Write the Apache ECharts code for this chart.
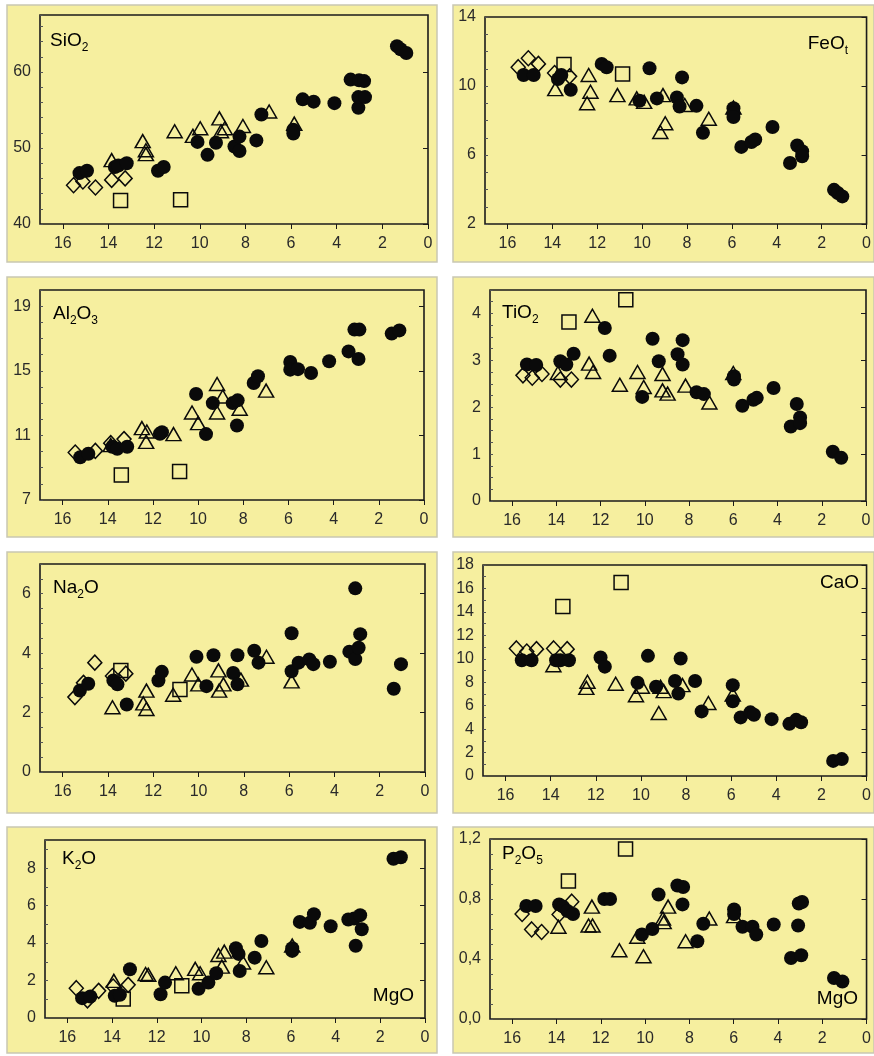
<!DOCTYPE html>
<html>
<head>
<meta charset="utf-8">
<script src="https://cdn.jsdelivr.net/npm/echarts@6/dist/echarts.min.js"></script>
<style>
  html, body { margin: 0; padding: 0; background: #ffffff; }
  #chart { width: 874px; height: 1056px; }
</style>
</head>
<body>
<div id="chart"></div>
<script>
// Harker diagrams: oxide (wt.%) against MgO (wt.%), four sample groups.
// Each pair is [MgO, oxide].

const mgoTicks = [0, 2, 4, 6, 8, 10, 12, 14, 16];

// SiO2
const sio2Dots = [[15.27,46.7],[14.94,47.0],[13.72,47.5],[13.57,47.7],[13.2,48.0],[11.83,47.0],[11.58,47.5],[10.1,50.8],[9.66,49.1],[9.29,50.7],[8.48,50.2],[8.26,51.5],[8.26,49.6],[7.52,51.0],[7.3,54.4],[5.9,52.4],[5.9,51.9],[5.49,56.4],[5.01,56.1],[4.1,55.9],[3.39,59.0],[3.02,58.9],[2.8,58.8],[3.05,55.3],[3.05,56.7],[2.76,56.7],[1.36,63.4],[1.2,63.0],[0.95,62.5]];
const sio2Tri = [[13.86,48.4],[12.5,50.9],[12.36,49.7],[12.36,49.2],[11.1,52.2],[10.3,51.6],[9.98,52.6],[9.14,53.9],[9.07,52.2],[8.9,52.6],[8.11,52.9],[6.96,54.8],[5.86,53.2]];
const sio2Dia = [[15.53,45.1],[15.12,45.6],[14.57,44.8],[13.86,45.8],[13.27,46.0]];
const sio2Sq = [[13.47,43.1],[10.84,43.2]];

// FeOt
const feoDots = [[15.28,10.64],[14.83,10.64],[13.75,10.4],[13.6,10.64],[13.18,9.78],[11.8,11.28],[11.58,11.09],[9.67,11.03],[10.12,9.14],[9.34,9.28],[8.45,9.33],[8.33,8.81],[8.22,10.5],[7.58,8.85],[7.29,7.29],[5.93,8.71],[5.93,8.4],[5.93,8.2],[5.58,6.47],[5.13,6.75],[4.96,6.9],[4.19,7.62],[3.41,5.54],[3.09,6.55],[2.87,6.22],[2.87,5.93],[1.45,3.98],[1.28,3.8],[1.08,3.6]];
const feoTri = [[13.87,9.82],[12.38,10.64],[12.3,9.67],[12.45,9.0],[11.1,9.47],[10.24,9.28],[9.91,9.08],[9.07,9.47],[9.19,7.33],[8.97,7.84],[8.1,8.9],[7.03,8.1],[5.93,8.75]];
const feoDia = [[15.52,11.09],[15.07,11.61],[14.62,11.28],[13.9,10.75],[13.23,10.56]];
const feoSq = [[13.48,11.24],[10.87,10.7]];

// Al2O3
const al2o3Dots = [[15.22,9.65],[14.86,9.86],[13.8,10.3],[13.58,10.17],[13.14,10.3],[11.69,11.1],[11.6,11.2],[10.09,13.56],[9.65,11.08],[9.35,13.0],[8.47,13.0],[8.25,13.17],[8.28,11.61],[7.54,14.24],[7.35,14.66],[5.92,15.55],[5.92,15.07],[5.58,15.1],[5.0,14.86],[4.2,15.59],[3.34,16.2],[3.08,17.55],[2.9,15.73],[2.86,17.55],[1.43,17.3],[1.09,17.5]];
const al2o3Tri = [[13.87,10.4],[12.49,11.45],[12.3,10.6],[12.27,11.24],[11.09,11.08],[10.27,12.42],[10.0,11.76],[9.16,14.18],[9.16,12.42],[8.91,13.41],[8.16,12.65],[6.99,13.77]];
const al2o3Dia = [[15.44,9.94],[14.55,10.04],[13.87,10.52],[13.28,10.77]];
const al2o3Sq = [[13.4,8.55],[10.82,8.76]];

// TiO2
const tio2Dots = [[15.33,2.91],[14.91,2.9],[13.82,2.98],[13.55,2.91],[13.22,3.14],[11.81,3.69],[11.59,3.1],[10.12,2.22],[9.65,3.46],[9.37,2.98],[8.52,3.13],[8.29,2.91],[8.29,3.43],[7.66,2.32],[7.33,2.28],[5.97,2.66],[5.97,2.59],[5.59,2.03],[5.09,2.16],[4.94,2.2],[4.18,2.41],[3.4,1.59],[3.13,2.07],[2.98,1.78],[2.98,1.66],[1.5,1.05],[1.12,0.92]];
const tio2Tri = [[13.93,2.73],[12.52,2.93],[12.34,2.75],[12.37,3.95],[11.13,2.48],[10.33,2.75],[10.05,2.43],[9.2,2.71],[9.2,2.36],[8.97,2.29],[8.16,2.46],[7.08,2.1],[6.0,2.73]];
const tio2Dia = [[15.51,2.68],[15.09,2.63],[14.65,2.71],[13.82,2.59],[13.32,2.59]];
const tio2Sq = [[13.43,3.82],[10.86,4.29]];

// Na2O
const na2oDots = [[15.24,2.74],[14.87,2.97],[13.76,3.08],[13.58,2.95],[13.17,2.27],[11.77,3.08],[11.62,3.37],[10.09,3.88],[9.65,2.89],[9.34,3.93],[8.47,3.33],[8.28,3.93],[8.28,2.95],[7.54,4.08],[7.35,3.68],[5.89,4.67],[5.89,3.39],[5.58,3.68],[5.11,3.79],[4.93,3.63],[4.2,3.71],[3.34,4.05],[3.08,6.18],[3.08,3.8],[2.93,4.18],[2.86,4.64],[1.38,2.8],[1.06,3.63]];
const na2oTri = [[13.8,2.18],[12.44,2.31],[12.3,2.74],[12.3,2.12],[11.12,2.6],[10.29,3.28],[10.01,2.95],[9.12,3.42],[9.09,2.74],[8.9,2.95],[8.13,3.11],[7.0,3.88],[5.89,3.05]];
const na2oDia = [[15.46,2.52],[15.08,3.0],[14.58,3.68],[13.8,3.23],[13.21,3.31]];
const na2oSq = [[13.43,3.42],[10.82,2.78]];

// CaO
const caoDots = [[15.28,9.88],[14.85,9.88],[13.76,9.88],[13.57,9.88],[13.19,9.88],[11.79,10.11],[11.6,9.33],[10.15,7.95],[9.69,10.25],[9.33,7.61],[8.49,8.1],[8.34,7.03],[8.24,10.02],[7.6,8.1],[7.31,5.51],[5.93,7.75],[5.93,6.37],[5.58,5.0],[5.15,5.43],[4.99,5.23],[4.21,4.85],[3.42,4.45],[3.12,4.79],[2.9,4.59],[1.48,1.29],[1.1,1.44]];
const caoTri = [[13.88,9.45],[12.37,8.04],[12.42,7.52],[11.12,7.87],[10.22,6.89],[9.96,7.61],[9.21,5.37],[9.13,7.61],[8.99,7.24],[8.16,7.75],[7.01,6.23],[5.93,6.95]];
const caoDia = [[15.52,10.88],[15.06,10.62],[14.63,10.82],[13.87,10.88],[13.27,10.82]];
const caoSq = [[13.46,14.47],[10.88,16.51]];

// K2O
const k2oDots = [[15.34,1.06],[14.97,1.15],[13.88,1.19],[13.65,1.24],[13.2,2.6],[11.83,1.27],[11.63,1.89],[10.13,1.56],[9.69,1.89],[9.34,2.39],[8.46,3.72],[8.34,3.42],[8.29,2.51],[7.62,3.22],[7.32,4.11],[5.94,3.58],[5.94,3.72],[5.6,5.13],[5.15,5.08],[4.97,5.54],[4.22,4.9],[3.43,5.26],[3.17,5.31],[3.1,3.86],[2.9,5.49],[2.83,4.74],[1.41,8.5],[1.08,8.58]];
const k2oTri = [[13.92,1.98],[12.5,2.35],[12.38,2.3],[11.15,2.39],[10.28,2.62],[10.06,2.39],[9.24,3.36],[9.09,2.74],[8.98,3.54],[8.14,2.96],[7.1,2.71],[5.94,3.86]];
const k2oDia = [[15.6,1.59],[15.1,0.94],[14.6,1.45],[13.95,1.68],[13.28,1.77]];
const k2oSq = [[13.5,1.01],[10.88,1.72]];

// P2O5
const p2o5Dots = [[15.36,0.753],[14.94,0.753],[13.88,0.764],[13.7,0.749],[13.5,0.72],[13.25,0.70],[11.84,0.80],[11.58,0.80],[10.14,0.563],[9.67,0.60],[9.39,0.83],[8.54,0.89],[8.28,0.88],[8.31,0.764],[7.64,0.518],[7.37,0.635],[5.98,0.73],[5.98,0.70],[5.6,0.615],[5.15,0.615],[4.98,0.563],[4.19,0.63],[3.41,0.407],[3.09,0.623],[3.06,0.77],[2.91,0.78],[2.95,0.425],[1.47,0.273],[1.09,0.25]];
const p2o5Tri = [[13.91,0.615],[12.55,0.623],[12.37,0.623],[12.4,0.749],[11.16,0.458],[10.35,0.548],[10.07,0.418],[9.19,0.67],[9.16,0.646],[8.96,0.749],[8.17,0.518],[7.1,0.67],[5.98,0.686]];
const p2o5Dia = [[15.55,0.70],[15.12,0.597],[14.67,0.58],[13.88,0.697],[13.31,0.782]];
const p2o5Sq = [[13.46,0.92],[10.88,1.133]];

// y-axis tick labels per panel
const sio2Ticks = [40, 50, 60];
const feoTicks = [2, 6, 10, 14];
const al2o3Ticks = [7, 11, 15, 19];
const tio2Ticks = [0, 1, 2, 3, 4];
const na2oTicks = [0, 2, 4, 6];
const caoTicks = [0, 2, 4, 6, 8, 10, 12, 14, 16, 18];
const k2oTicks = [0, 2, 4, 6, 8];
const p2o5Ticks = [0, 0.4, 0.8, 1.2];

const FONT = 'Liberation Sans, Arial, Helvetica, sans-serif';
const YELLOW = '#f6ef9f';
const INK = '#0a0a0a';
const LABEL = '#2a2a2a';

const panels = [
  { dots: sio2Dots, tri: sio2Tri, dia: sio2Dia, sq: sio2Sq, ticks: sio2Ticks, min: 40, max: 67.5, minor: 2,
    box: [15, 40, 428, 224], name: 'SiO', sub: '2', tail: '', pos: [50, 31], align: 'left' },
  { dots: feoDots, tri: feoTri, dia: feoDia, sq: feoSq, ticks: feoTicks, min: 2, max: 14, minor: 1,
    box: [17, 485, 867, 224], name: 'FeO', sub: 't', tail: '', pos: [848, 34], align: 'right' },
  { dots: al2o3Dots, tri: al2o3Tri, dia: al2o3Dia, sq: al2o3Sq, ticks: al2o3Ticks, min: 7, max: 20, minor: 1,
    box: [290, 40, 424, 500], name: 'Al', sub: '2', tail: 'O', sub2: '3', pos: [53, 304], align: 'left' },
  { dots: tio2Dots, tri: tio2Tri, dia: tio2Dia, sq: tio2Sq, ticks: tio2Ticks, min: 0, max: 4.5, minor: 0.25,
    box: [290, 490, 866, 501], name: 'TiO', sub: '2', tail: '', pos: [502, 303], align: 'left' },
  { dots: na2oDots, tri: na2oTri, dia: na2oDia, sq: na2oSq, ticks: na2oTicks, min: 0, max: 7, minor: 0.5,
    box: [564, 40, 425, 772], name: 'Na', sub: '2', tail: 'O', pos: [53, 578], align: 'left' },
  { dots: caoDots, tri: caoTri, dia: caoDia, sq: caoSq, ticks: caoTicks, min: 0, max: 18, minor: 1,
    box: [565, 483, 867, 776], name: 'CaO', sub: '', tail: '', pos: [859, 573], align: 'right' },
  { dots: k2oDots, tri: k2oTri, dia: k2oDia, sq: k2oSq, ticks: k2oTicks, min: 0, max: 9.5, minor: 1,
    box: [840, 45, 425, 1018], name: 'K', sub: '2', tail: 'O', pos: [62, 849], align: 'left',
    mgo: [414, 986] },
  { dots: p2o5Dots, tri: p2o5Tri, dia: p2o5Dia, sq: p2o5Sq, ticks: p2o5Ticks, min: 0, max: 1.2, minor: 0.1,
    box: [839, 490, 867, 1019], name: 'P', sub: '2', tail: 'O', sub2: '5', pos: [502, 844], align: 'left',
    mgo: [858, 989], comma: true }
];

const grids = [], xAxes = [], yAxes = [], series = [], graphics = [];

// Yellow panel cards behind each plot
const cardCols = [[7, 430], [453, 421]];
const cardRows = [[5, 257], [277, 260], [552, 261], [827, 226]];
cardRows.forEach(r => cardCols.forEach(c => {
  graphics.push({
    type: 'rect', z: -10, silent: true,
    shape: { x: c[0], y: r[0], width: c[1], height: r[1] },
    style: { fill: YELLOW, stroke: '#c9c7b3', lineWidth: 1.5 }
  });
}));

const richStyles = {
  b: { fontFamily: FONT, fontSize: 19, color: '#1e1e1e', lineHeight: 22, verticalAlign: 'top' },
  s: { fontFamily: FONT, fontSize: 12, color: '#1e1e1e', lineHeight: 12, verticalAlign: 'top', padding: [11, 0, 0, 0] }
};

panels.forEach((p, i) => {
  const [top, left, right, bottom] = p.box;
  grids.push({
    left: left, top: top, width: right - left, height: bottom - top,
    show: true, backgroundColor: 'transparent', borderColor: '#1b1b1b', borderWidth: 1.6
  });
  xAxes.push({
    type: 'value', gridIndex: i, min: 0, max: 17, inverse: true,
    axisLine: { show: false },
    splitLine: { show: false },
    axisTick: { show: true, inside: false, length: 5, customValues: mgoTicks,
      lineStyle: { color: '#1b1b1b', width: 1 } },
    axisLabel: { show: true, customValues: mgoTicks, margin: 12, fontSize: 16,
      fontFamily: FONT, color: LABEL }
  });
  const fmt = p.comma ? (v => v.toFixed(1).replace('.', ',')) : (v => String(v));
  yAxes.push({
    type: 'value', gridIndex: i, min: p.min, max: p.max,
    axisLine: { show: false },
    splitLine: { show: false },
    axisTick: { show: true, inside: false, length: 5, customValues: p.ticks,
      lineStyle: { color: '#1b1b1b', width: 1 } },
    axisLabel: { show: true, customValues: p.ticks, formatter: fmt, margin: 9,
      fontSize: 16, fontFamily: FONT, color: LABEL }
  });
  // fine tick marks along the y axis
  yAxes.push({
    type: 'value', gridIndex: i, min: p.min, max: p.max, interval: p.minor, position: 'left',
    axisLine: { show: false }, splitLine: { show: false }, axisLabel: { show: false },
    axisTick: { show: true, inside: true, length: 3, lineStyle: { color: '#555', width: 1 } }
  });

  const yIdx = i * 2;
  const open = { color: 'rgba(0,0,0,0)', borderColor: INK, borderWidth: 1.5, opacity: 1 };
  series.push({ type: 'scatter', xAxisIndex: i, yAxisIndex: yIdx, data: p.tri,
    symbol: 'triangle', symbolSize: [15, 13], itemStyle: open, z: 2 });
  series.push({ type: 'scatter', xAxisIndex: i, yAxisIndex: yIdx, data: p.dia,
    symbol: 'diamond', symbolSize: [14, 15], itemStyle: open, z: 2 });
  series.push({ type: 'scatter', xAxisIndex: i, yAxisIndex: yIdx, data: p.sq,
    symbol: 'rect', symbolSize: [14, 14], itemStyle: open, z: 2 });
  series.push({ type: 'scatter', xAxisIndex: i, yAxisIndex: yIdx, data: p.dots,
    symbol: 'circle', symbolSize: 14, itemStyle: { color: INK, opacity: 1 }, z: 3 });

  // oxide name with subscripts
  let text = '{b|' + p.name + '}';
  if (p.sub) text += '{s|' + p.sub + '}';
  if (p.tail) text += '{b|' + p.tail + '}';
  if (p.sub2) text += '{s|' + p.sub2 + '}';
  graphics.push({
    type: 'text', z: 5, silent: true, x: p.pos[0], y: p.pos[1],
    style: { text: text, rich: richStyles, align: p.align, verticalAlign: 'top' }
  });
  if (p.mgo) {
    graphics.push({
      type: 'text', z: 5, silent: true, x: p.mgo[0], y: p.mgo[1],
      style: { text: '{b|MgO}', rich: richStyles, align: 'right', verticalAlign: 'top' }
    });
  }
});

const chart = echarts.init(document.getElementById('chart'), null, { renderer: 'canvas' });
chart.setOption({
  animation: false,
  backgroundColor: '#ffffff',
  grid: grids,
  xAxis: xAxes,
  yAxis: yAxes,
  series: series,
  graphic: { elements: graphics }
});
</script>
</body>
</html>
